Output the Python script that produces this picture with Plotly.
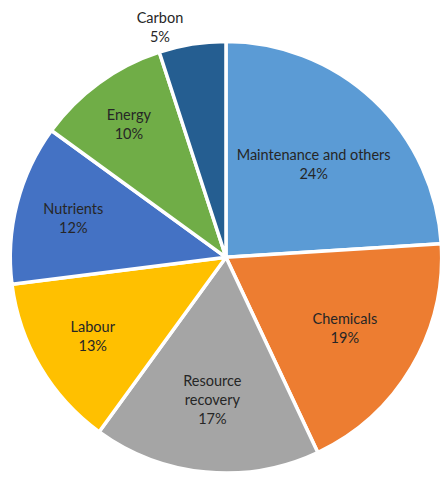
import plotly.graph_objects as go

labels = ["Maintenance and others", "Chemicals", "Resource recovery", "Labour", "Nutrients", "Energy", "Carbon"]
display_labels = ["Maintenance and others", "Chemicals", "Resource<br>recovery", "Labour", "Nutrients", "Energy", "Carbon"]
values = [24, 19, 17, 13, 12, 10, 5]
colors = ["#5B9BD5", "#ED7D31", "#A5A5A5", "#FFC000", "#4472C4", "#70AD47", "#255E91"]
positions = ["inside", "inside", "inside", "inside", "inside", "inside", "outside"]

fig = go.Figure(go.Pie(
    labels=labels,
    values=values,
    text=display_labels,
    textinfo="text+percent",
    texttemplate="%{text}<br>%{value}%",
    textposition=positions,
    insidetextorientation="horizontal",
    sort=False,
    direction="clockwise",
    rotation=0,
    marker=dict(colors=colors, line=dict(color="white", width=3.5)),
    textfont=dict(family="Lato", size=14.5, color="#262626"),
    hole=0,
    domain=dict(x=[0.0224, 0.9978], y=[0.0, 0.912]),
    showlegend=False,
))

fig.update_layout(
    width=447, height=478,
    margin=dict(l=0, r=0, t=0, b=0),
    paper_bgcolor="white",
    uniformtext=dict(minsize=10, mode="show"),
)

fig.write_html("out.html", config={"displayModeBar": False},
               post_script="document.body.style.margin='0';document.body.style.overflow='hidden';")
